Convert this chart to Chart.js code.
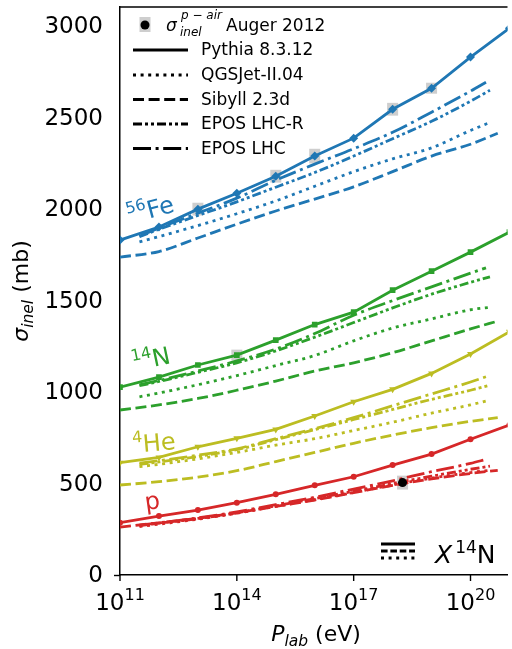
<!DOCTYPE html>
<html><head><meta charset="utf-8">
<script src="https://cdn.jsdelivr.net/npm/chart.js@4/dist/chart.umd.min.js"></script>
<style>html,body{margin:0;padding:0;background:#fff;}#c{display:block;}</style>
</head><body>
<div style="width:512px;height:649px;position:relative"><canvas id="c" width="512" height="649"></canvas></div>
<script>
// ---------------- data ----------------
const pythiaE  = [1e11,1e12,1e13,1e14,1e15,1e16,1e17,1e18,1e19,1e20,1e21];
const pythiaFe = [1831,1902,2000,2087,2180,2290,2388,2546,2661,2831,2989];
const pythiaN  = [1027,1082,1148,1202,1284,1369,1437,1557,1661,1765,1874];
const pythiaHe = [614,643,701,747,796,869,947,1015,1102,1208,1330];
const pythiaP  = [286,322,355,395,441,490,537,601,661,742,820];
const pythiaFeErr = [0,0,35,0,35,40,0,35,30,0,0];
const pythiaNErr  = [0,0,0,30,0,0,0,0,0,0,0];
const pythiaHeErr = [0,0,0,0,0,0,0,0,0,0,0];
const pythiaPErr  = [0,0,0,0,0,0,0,0,0,0,0];

const sibyllE  = [1e11,1e12,1e13,1e14,1e15,1e16,1e17,1e18,1e19,1e20,5.0e20];
const sibyllFe = [1738,1768,1842,1918,1990,2055,2122,2205,2290,2355,2415];
const sibyllN  = [902,930,965,1010,1060,1115,1160,1215,1280,1345,1388];
const sibyllHe = [492,510,535,570,620,670,720,765,805,840,860];
const sibyllP  = [262,285,310,340,375,410,450,490,525,555,572];

const qgsE  = [3.16e11,1e12,1e13,1e14,1e15,1e16,1e17,1e18,1e19,1e20,3.0e20];
const qgsFe = [1821,1850,1910,1975,2045,2125,2205,2275,2335,2430,2472];
const qgsN  = [974,995,1040,1090,1145,1200,1280,1350,1400,1450,1463];
const qgsHe = [592,605,635,670,710,745,790,835,885,930,955];
const qgsP  = [265,278,305,338,375,412,452,492,530,560,572];

const eposE  = [3.16e11,1e12,1e13,1e14,1e15,1e16,1e17,1e18,1e19,1e20,2.5e20];
const eposFe = [1852,1896,1978,2060,2158,2246,2330,2420,2530,2645,2694];
const eposN  = [1040,1063,1115,1170,1235,1320,1420,1500,1575,1650,1679];
const eposHe = [612,625,655,690,745,800,860,925,990,1055,1084];
const eposP  = [272,285,312,345,385,425,470,515,565,610,632];

const eposRE  = [3.16e11,1e12,1e13,1e14,1e15,1e16,1e17,1e18,1e19,1e20,3.16e20];
const eposRFe = [1850,1890,1965,2040,2120,2200,2290,2385,2480,2590,2650];
const eposRN  = [1035,1058,1108,1160,1225,1300,1380,1460,1535,1600,1630];
const eposRHe = [605,618,648,685,740,795,850,905,960,1010,1038];
const eposRP  = [270,283,308,340,378,418,458,500,540,578,595];

const augerE = [1.8e18];
const augerV = [505];
const augerErr = [38];

const xTicks = [1e11,1e14,1e17,1e20];
const yTicks = [0,500,1000,1500,2000,2500,3000];

// ---------------- styles ----------------
const FONT = 'DejaVu Sans';
const LW = 2.8;
const DASH = {pythia:[], qgs:[3,4.6], sibyll:[11,4.6], eposR:[9,3,3,3,3,3], epos:[18,4.6,3,4.6]};
const nuclei = [
  {color:'#1f77b4', py:pythiaFe, err:pythiaFeErr, sib:sibyllFe, qgs:qgsFe, epos:eposFe, eposR:eposRFe, marker:'rectRot', r:4.5, rot:0},
  {color:'#2ca02c', py:pythiaN,  err:pythiaNErr,  sib:sibyllN,  qgs:qgsN,  epos:eposN,  eposR:eposRN,  marker:'rect', r:4, rot:0},
  {color:'#bcbd22', py:pythiaHe, err:pythiaHeErr, sib:sibyllHe, qgs:qgsHe, epos:eposHe, eposR:eposRHe, marker:'triangle', r:4, rot:180},
  {color:'#d62728', py:pythiaP,  err:pythiaPErr,  sib:sibyllP,  qgs:qgsP,  epos:eposP,  eposR:eposRP,  marker:'circle', r:3, rot:0}
];
function pts(E,V){return E.map((e,i)=>({x:e,y:V[i]}));}
function modelDs(E,V,color,dash){
  return {data:pts(E,V),borderColor:color,backgroundColor:color,borderWidth:LW,borderDash:dash,
    borderCapStyle:'butt',pointRadius:0,tension:0.35,cubicInterpolationMode:'monotone',fill:false};
}
const datasets=[];
datasets.push({data:pts(augerE,augerV),showLine:false,pointRadius:4.5,pointStyle:'circle',
  backgroundColor:'#000',borderColor:'#000',borderWidth:0,errBox:augerErr});
for(const n of nuclei){
  datasets.push({data:pts(pythiaE,n.py),borderColor:n.color,backgroundColor:n.color,borderWidth:LW,
    pointStyle:n.marker,pointRadius:n.r,pointRotation:n.rot,pointBorderWidth:0,tension:0,fill:false,errBox:n.err});
  datasets.push(modelDs(eposE,n.epos,n.color,DASH.epos));
  datasets.push(modelDs(eposRE,n.eposR,n.color,DASH.eposR));
  datasets.push(modelDs(qgsE,n.qgs,n.color,DASH.qgs));
  datasets.push(modelDs(sibyllE,n.sib,n.color,DASH.sibyll));
}

// ---------------- helpers ----------------
function rich(ctx,parts,x,y,align){
  let w=0;
  for(const p of parts){ctx.font=(p.it?'italic ':'')+p.s+'px "'+FONT+'"';p.w=ctx.measureText(p.t).width;w+=p.w+(p.gap||0);}
  let cx = align==='center'? x-w/2 : (align==='right'? x-w : x);
  for(const p of parts){ctx.font=(p.it?'italic ':'')+p.s+'px "'+FONT+'"';ctx.fillText(p.t,cx,y+(p.dy||0));cx+=p.w+(p.gap||0);}
}

const decor = {
  id:'decor',
  beforeDatasetsDraw(chart){
    const ctx=chart.ctx, xs=chart.scales.x, ys=chart.scales.y, a=chart.chartArea;
    ctx.save();
    ctx.beginPath();ctx.rect(a.left,a.top,a.right-a.left,a.bottom-a.top);ctx.clip();
    ctx.fillStyle='rgba(190,190,190,0.75)';
    chart.data.datasets.forEach(ds=>{
      if(!ds.errBox) return;
      ds.data.forEach((p,i)=>{
        const e=ds.errBox[i]; if(!e) return;
        const px=xs.getPixelForValue(p.x), y1=ys.getPixelForValue(p.y+e), y2=ys.getPixelForValue(p.y-e);
        ctx.fillRect(px-5.5,y1,11,y2-y1);
      });
    });
    ctx.restore();
  },
  afterDraw(chart){
    const ctx=chart.ctx, xs=chart.scales.x, ys=chart.scales.y, a=chart.chartArea;
    ctx.save();
    // top spine
    ctx.strokeStyle='#000';ctx.lineWidth=1.5;
    ctx.beginPath();ctx.moveTo(a.left,a.top);ctx.lineTo(a.right,a.top);ctx.stroke();
    // y ticks + labels
    ctx.fillStyle='#000';
    ys.ticks.forEach(t=>{
      if(t.value%100!==0) return;
      const py=Math.round(ys.getPixelForValue(t.value))+0.5;
      const major=t.value%500===0;
      ctx.lineWidth=major?1.4:1.0;
      ctx.beginPath();ctx.moveTo(a.left,py);ctx.lineTo(a.left-(major?6:3.5),py);ctx.stroke();
    });
    ctx.textAlign='right';ctx.textBaseline='middle';ctx.font='23px "'+FONT+'"';
    yTicks.forEach(v=>{ctx.fillText(String(v),103,ys.getPixelForValue(v)+1);});
    ctx.textAlign='left';
    // x ticks + labels
    ctx.textBaseline='alphabetic';
    xTicks.forEach(v=>{
      const px=xs.getPixelForValue(v);
      ctx.lineWidth=1.4;
      ctx.beginPath();ctx.moveTo(px,a.bottom);ctx.lineTo(px,a.bottom+6);ctx.stroke();
      const ex=String(Math.round(Math.log10(v)));
      rich(ctx,[{t:'10',s:23},{t:ex,s:16,dy:-10}],px,610,'center');
    });
    // axis labels
    rich(ctx,[{t:'P',s:22,it:true},{t:'lab',s:15.5,it:true,dy:5},{t:' (eV)',s:22}],316,641,'center');
    ctx.save();ctx.translate(28,291);ctx.rotate(-Math.PI/2);
    rich(ctx,[{t:'σ',s:22,it:true},{t:'inel',s:15.5,it:true,dy:5},{t:' (mb)',s:22}],0,0,'center');
    ctx.restore();

    // legend
    const lx0=133,lx1=188,tx=201;
    const items=[
      {y:50,dash:DASH.pythia,t:'Pythia 8.3.12'},
      {y:75,dash:DASH.qgs,t:'QGSJet-II.04'},
      {y:99.5,dash:DASH.sibyll,t:'Sibyll 2.3d'},
      {y:124,dash:DASH.eposR,t:'EPOS LHC-R'},
      {y:148.5,dash:DASH.epos,t:'EPOS LHC'}
    ];
    ctx.strokeStyle='#000';ctx.lineWidth=LW;ctx.lineCap='butt';
    ctx.textBaseline='middle';
    items.forEach(it=>{
      ctx.setLineDash(it.dash);ctx.beginPath();ctx.moveTo(lx0,it.y);ctx.lineTo(lx1,it.y);ctx.stroke();
      ctx.font='17px "'+FONT+'"';ctx.fillText(it.t,tx,it.y+1);
    });
    ctx.setLineDash([]);
    ctx.fillStyle='rgba(190,190,190,0.75)';ctx.fillRect(139.5,17,11,15);
    ctx.fillStyle='#000';ctx.beginPath();ctx.arc(145,25,4.5,0,Math.PI*2);ctx.fill();
    ctx.textBaseline='alphabetic';
    ctx.font='italic 17px "'+FONT+'"';ctx.fillText('σ',166,31);
    ctx.font='italic 12px "'+FONT+'"';ctx.fillText('inel',180,36);ctx.fillText('p − air',181,19);
    ctx.font='17px "'+FONT+'"';ctx.fillText('Auger 2012',226,31);

    // nucleus labels
    const lab=[
      {E:1.75e11,v:1920,rot:-15,c:'#1f77b4',sup:'56',main:'Fe'},
      {E:2.3e11,v:1115,rot:-12,c:'#2ca02c',sup:'14',main:'N'},
      {E:2.2e11,v:668,rot:-5,c:'#bcbd22',sup:'4',main:'He'},
      {E:4.6e11,v:355,rot:-8,c:'#d62728',sup:'',main:'p'}
    ];
    lab.forEach(l=>{
      ctx.save();
      ctx.translate(xs.getPixelForValue(l.E),ys.getPixelForValue(l.v));
      ctx.rotate(l.rot*Math.PI/180);ctx.fillStyle=l.c;
      rich(ctx,[{t:l.sup,s:16,dy:-10},{t:l.main,s:24}],0,0,'left');
      ctx.restore();
    });

    // bottom-right key
    ctx.strokeStyle='#000';ctx.lineWidth=LW;
    [[[],544],[DASH.sibyll.map(v=>v*0.6),551],[DASH.qgs,558]].forEach(([d,y])=>{
      ctx.setLineDash(d);ctx.beginPath();ctx.moveTo(381,y);ctx.lineTo(415,y);ctx.stroke();
    });
    ctx.setLineDash([]);ctx.fillStyle='#000';
    rich(ctx,[{t:'X',s:25,it:true,gap:3},{t:'14',s:17,dy:-10},{t:'N',s:25}],435,563,'left');
    ctx.restore();
  }
};

new Chart(document.getElementById('c'),{
  type:'line',
  data:{datasets},
  options:{
    responsive:false,animation:false,devicePixelRatio:1,
    layout:{padding:{top:7,right:0,left:0,bottom:0}},
    plugins:{legend:{display:false},tooltip:{enabled:false}},
    scales:{
      x:{type:'logarithmic',min:1e11,max:Math.pow(10,20.95),
        grid:{display:false,drawTicks:false},
        border:{display:true,color:'#000',width:1.5},
        ticks:{display:false},
        afterFit(s){s.height=74;}},
      y:{type:'linear',min:0,max:3105,
        grid:{color:(c)=>(c.tick&&c.tick.value%500===0&&c.tick.value>0)?'#e2e2e2':'rgba(0,0,0,0)',lineWidth:1.5,drawTicks:false},
        border:{display:true,color:'#000',width:1.5},
        ticks:{display:false,stepSize:100,maxTicksLimit:1000,autoSkip:false},
        afterFit(s){s.width=120;}}
    }
  },
  plugins:[decor]
});
</script>
</body></html>
